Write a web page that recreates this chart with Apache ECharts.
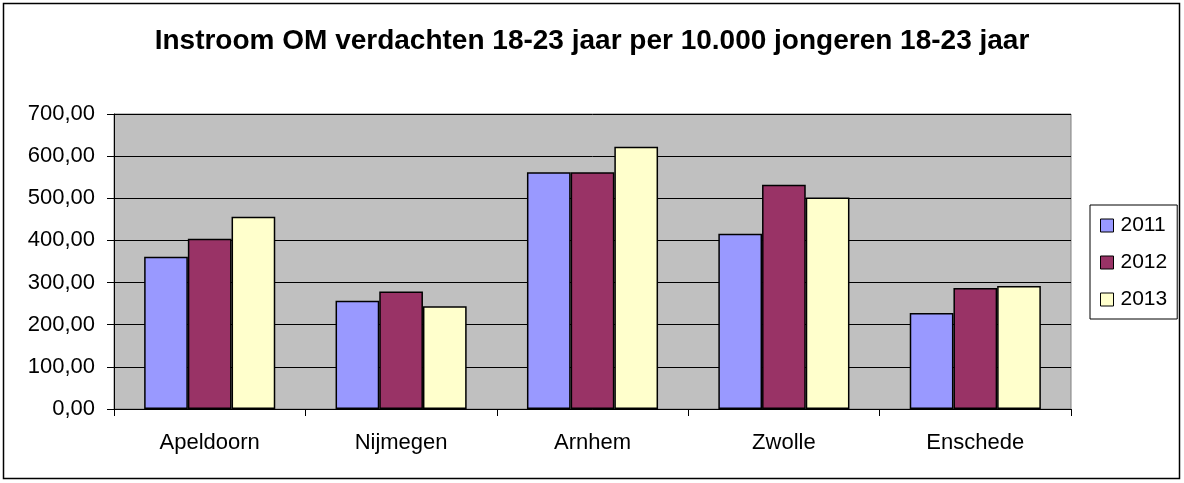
<!DOCTYPE html>
<html>
<head>
<meta charset="utf-8">
<script src="https://cdn.jsdelivr.net/npm/echarts@6/dist/echarts.min.js"></script>
<style>
  html, body { margin: 0; padding: 0; background: #fff; }
  #main { width: 1184px; height: 483px; }
</style>
</head>
<body>
<div id="main"></div>
<script>
var cities = ['Apeldoorn', 'Nijmegen', 'Arnhem', 'Zwolle', 'Enschede'];
var years = ['2011', '2012', '2013'];
var values2011 = [361, 257, 562, 416, 228];
var values2012 = [404, 279, 562, 532, 287];
var values2013 = [456, 244, 622, 502, 292];
var colors = ['#9999FF', '#993366', '#FFFFCC'];

var myChart = echarts.init(document.getElementById('main'));

var fontFam = 'Liberation Sans, Arial, sans-serif';

function barSeries(name, data, color) {
    return {
        name: name,
        type: 'bar',
        data: data,
        barGap: '0%',
        barCategoryGap: '31.5%',
        itemStyle: {
            color: color,
            borderColor: '#000',
            borderWidth: 1.5
        }
    };
}

var option = {
    backgroundColor: '#fff',
    animation: false,
    title: {
        text: 'Instroom OM verdachten 18-23 jaar per 10.000 jongeren 18-23 jaar',
        left: 'center',
        top: 22,
        textStyle: {
            fontFamily: fontFam,
            fontSize: 28,
            fontWeight: 'bold',
            color: '#000'
        }
    },
    legend: {
        orient: 'vertical',
        left: 1090,
        top: 205,
        padding: [10, 10, 9, 10],
        itemGap: 16,
        itemWidth: 13,
        itemHeight: 13,
        borderColor: '#000',
        borderWidth: 1,
        icon: 'rect',
        data: years,
        textStyle: {
            fontFamily: fontFam,
            fontSize: 21,
            color: '#000',
            padding: [0, 0, 0, 2]
        },
        itemStyle: {
            borderColor: '#000',
            borderWidth: 1
        }
    },
    grid: {
        left: 114,
        top: 114,
        width: 957,
        height: 295,
        show: true,
        backgroundColor: '#C0C0C0',
        borderColor: '#808080',
        borderWidth: 1
    },
    xAxis: {
        type: 'category',
        data: cities,
        axisLine: { lineStyle: { color: '#000', width: 1 } },
        axisTick: { show: true, length: 7, inside: false, lineStyle: { color: '#000' } },
        axisLabel: {
            fontFamily: fontFam,
            fontSize: 22,
            color: '#000',
            margin: 23
        },
        splitLine: { show: false }
    },
    yAxis: {
        type: 'value',
        min: 0,
        max: 700,
        interval: 100,
        axisLine: { show: true, lineStyle: { color: '#000', width: 1 } },
        axisTick: { show: true, length: 7, lineStyle: { color: '#000' } },
        axisLabel: {
            fontFamily: fontFam,
            fontSize: 22,
            color: '#000',
            margin: 19,
            formatter: function (v) {
                return v.toFixed(2).replace('.', ',');
            }
        },
        splitLine: { show: true, lineStyle: { color: '#000', width: 1 } }
    },
    graphic: [
        {
            type: 'rect',
            shape: { x: 3.5, y: 3.5, width: 1176, height: 475 },
            style: { fill: 'none', stroke: '#000', lineWidth: 1.5 },
            silent: true,
            z: 100
        }
    ],
    series: [
        barSeries('2011', values2011, colors[0]),
        barSeries('2012', values2012, colors[1]),
        barSeries('2013', values2013, colors[2])
    ]
};

myChart.setOption(option);
</script>
</body>
</html>
